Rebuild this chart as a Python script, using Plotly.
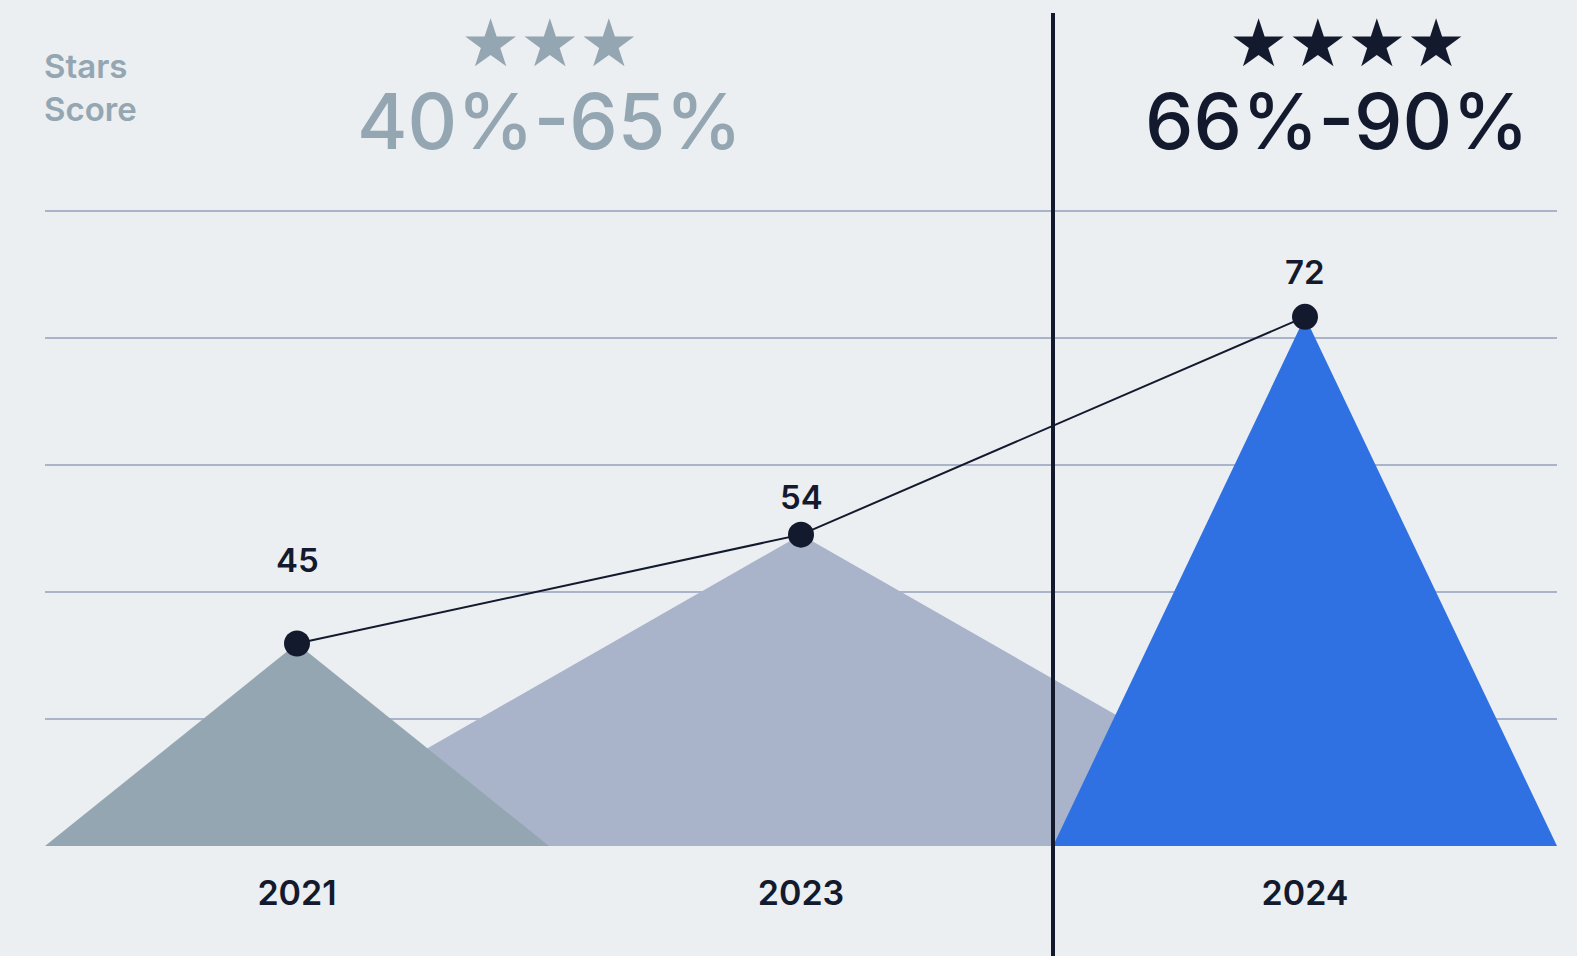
import numpy as np
import plotly.graph_objects as go

# --- data ---------------------------------------------------------------
years = ["2021", "2023", "2024"]
scores = [45, 54, 72]
band_low_label = "40%-65%"
band_high_label = "66%-90%"
band_low_stars = 3
band_high_stars = 4
axis_title = "Stars<br>Score"

# --- styling ------------------------------------------------------------
BG = "#EBEFF2"
GRID = "#A9B4CB"
DARK = "#141A2E"
GREY = "#94A6B1"
FILLS = ["#94A6B1", "#A9B4CB", "#2F71E3"]
HALF_WIDTH = [0.5, 1.08, 0.5]        # half base width of each peak, in category units
DRAW_ORDER = [1, 0, 2]                # wide middle peak sits behind its neighbours
LABEL_SHIFT = [84, 38, 45]            # value label offset above each point (px)
FONT = "Inter"

# plot area in pixels
L, R, T, B = 45, 1557, 191, 846
W, H = 1577, 956


def px(x):
    return (x - L) / (R - L)


def py(y):
    return (B - y) / (B - T)


Y_LO, Y_HI = 28.27, 82.4
grid_vals = list(np.linspace(Y_LO, 80.72, 6))

xs = list(range(len(years)))

fig = go.Figure()

# triangular peaks rising from the baseline to each score
for i in DRAW_ORDER:
    fig.add_trace(go.Scatter(
        x=[xs[i] - HALF_WIDTH[i], xs[i], xs[i] + HALF_WIDTH[i], xs[i] - HALF_WIDTH[i]],
        y=[Y_LO, scores[i], Y_LO, Y_LO],
        mode="lines", fill="toself", fillcolor=FILLS[i],
        line=dict(width=0, color=FILLS[i]),
        hoverinfo="skip", showlegend=False,
    ))

# trend line connecting the peaks
fig.add_trace(go.Scatter(
    x=xs, y=scores, mode="lines+markers",
    line=dict(color=DARK, width=2),
    marker=dict(color=DARK, size=26),
    showlegend=False,
))

# value labels above each point
for i, v in enumerate(scores):
    fig.add_annotation(
        x=xs[i], y=v, text=str(v), showarrow=False,
        yshift=LABEL_SHIFT[i], yanchor="middle",
        font=dict(family=FONT, size=33, color=DARK, weight=600),
    )

# divider between the two score bands
fig.add_shape(
    type="line", xref="x", yref="paper",
    x0=1.5, x1=1.5, y0=-0.3, y1=py(13),
    line=dict(color=DARK, width=4), layer="above",
)

# band headings
fig.add_annotation(
    xref="paper", yref="paper", x=0.0, y=py(44), xanchor="left", yanchor="top",
    xshift=-3, text=axis_title, showarrow=False, align="left",
    font=dict(family=FONT, size=33, color=GREY, weight=600),
)
fig.add_annotation(
    xref="paper", yref="paper", x=px(549), y=py(121),
    text=band_low_label, showarrow=False, xanchor="center", yanchor="middle",
    font=dict(family=FONT, size=77, color=GREY, weight=500),
)
fig.add_annotation(
    xref="paper", yref="paper", x=px(1337), y=py(121),
    text=band_high_label, showarrow=False, xanchor="center", yanchor="middle",
    font=dict(family=FONT, size=77, color=DARK, weight=500),
)
fig.add_annotation(
    xref="paper", yref="paper", x=px(550), y=py(43),
    text="★" * band_low_stars, showarrow=False, xanchor="center", yanchor="middle",
    font=dict(family="DejaVu Sans", size=66, color=GREY),
)
fig.add_annotation(
    xref="paper", yref="paper", x=px(1347), y=py(43),
    text="★" * band_high_stars, showarrow=False, xanchor="center", yanchor="middle",
    font=dict(family="DejaVu Sans", size=66, color=DARK),
)

fig.update_xaxes(
    range=[-0.5, 2.5], tickmode="array", tickvals=xs, ticktext=years,
    showgrid=False, zeroline=False, showline=False, ticks="",
    ticklabelstandoff=24,
    tickfont=dict(family=FONT, size=34, color=DARK, weight=600),
    fixedrange=True,
)
fig.update_yaxes(
    range=[Y_LO, Y_HI], tickmode="array", tickvals=grid_vals,
    showticklabels=False, showgrid=True, gridcolor=GRID, gridwidth=2,
    zeroline=False, showline=False, fixedrange=True,
)

fig.update_layout(
    width=W, height=H,
    margin=dict(l=L, r=W - R, t=T, b=H - B),
    paper_bgcolor=BG, plot_bgcolor=BG,
    showlegend=False,
)

fig.write_html("out.html", config={"displayModeBar": False})
